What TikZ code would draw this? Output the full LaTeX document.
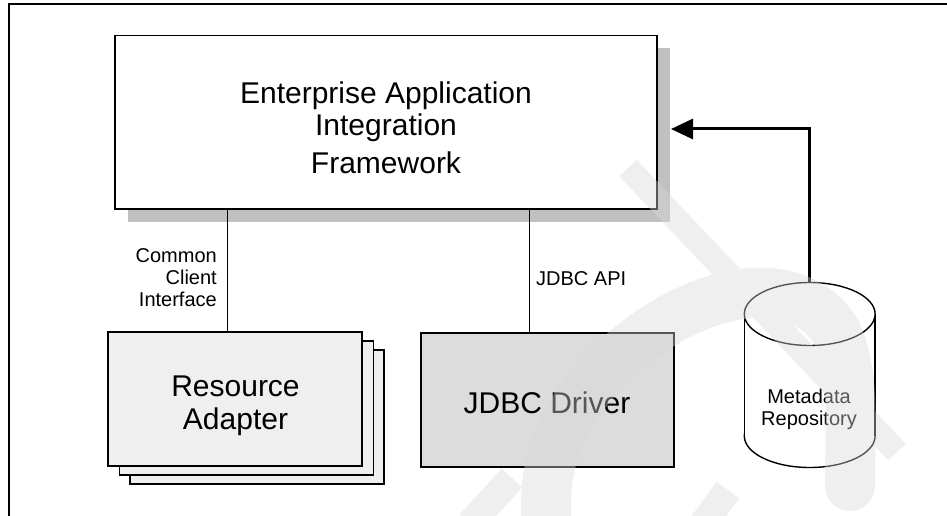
\documentclass[tikz,border=0pt]{standalone}
\usepackage{fontspec}
\setmainfont{Liberation Sans}
\usetikzlibrary{arrows.meta,calc}
\definecolor{shadowgray}{HTML}{C0C0C0}
\definecolor{adapterfill}{HTML}{EFEFEF}
\definecolor{driverfill}{HTML}{DCDCDC}
\definecolor{markgray}{HTML}{D9D9D9}
\begin{document}
\begin{tikzpicture}[x=1pt,y=-1pt,
  box/.style={draw=black, line width=1.2pt, inner sep=0pt},
  stackbox/.style={box, fill=adapterfill, minimum width=254pt, minimum height=134pt},
  bigtext/.style={inner sep=0pt, align=center, font=\fontsize{30}{33.3}\selectfont},
  lbl/.style={inner sep=0pt, font=\fontsize{20}{22.2}\selectfont},
  conn/.style={draw=black, line width=1.1pt},
  cyl/.style={draw=black, line width=1.4pt},
  flow/.style={draw=black, line width=3pt, -{Triangle[length=22pt,width=20pt]}}]
\useasboundingbox (0,0) rectangle (947,516);
\fill[white] (0,0) rectangle (947,516);

% page frame
\draw[line width=2pt] (9,516) -- (9,4.3) -- (947,4.3);

% integration framework with drop shadow
\fill[shadowgray] (127.5,48) rectangle (670,222);
\node[box, fill=white, minimum width=542pt, minimum height=173.5pt] (eai) at (386,122.2) {};
\node[bigtext, anchor=north, font=\fontsize{30}{31.8}\selectfont] (eaitext) at (386,82)
  {Enterprise Application\\Integration\\[6.4pt]Framework};

% stacked resource adapters
\node[stackbox] (ra3) at (257,417) {};
\node[stackbox] (ra2) at (246.5,408) {};
\node[stackbox] (ra) at (235,399) {};
\node[bigtext, anchor=north] (ratext) at (235.5,375.2) {Resource\\Adapter};

% JDBC driver
\node[box, fill=driverfill, minimum width=253pt, minimum height=134pt] (jd) at (547.5,400) {};
\node[bigtext, anchor=base] (jdtext) at (547,413.3) {JDBC Driver};

% interfaces between the framework and the connectors
\draw[conn] ([xshift=-7.5pt]ra.north) -- ([xshift=-7.5pt]ra.north |- eai.south);
\draw[conn] ([xshift=-18pt]jd.north) -- ([xshift=-18pt]jd.north |- eai.south);
\node[lbl, align=right, anchor=north east] (cci) at (217,248.4) {Common\\Client\\Interface};
\node[lbl, anchor=base west] (api) at (536,285) {JDBC API};

% metadata repository cylinder
\draw[cyl, fill=white] (809.7,436) ellipse[x radius=65.4, y radius=31.5];
\fill[white] (744.3,314) rectangle (875.1,436);
\draw[cyl] (744.3,314) -- (744.3,436);
\draw[cyl] (875.1,314) -- (875.1,436);
\draw[cyl, fill=white] (809.7,314) ellipse[x radius=65.4, y radius=31.5];
\node[lbl, align=center, anchor=north] (md) at (809,389) {Metadata\\Repository};

% metadata feeds the framework
\coordinate (mdtop) at (809.7,282.5);
\coordinate (eaiin) at (671,129);
\draw[flow] (mdtop) |- (eaiin);

% faint watermark over the page
\begin{scope}[transparency group, opacity=0.4]
  \draw[markgray, line width=24pt] (628,168) -- (897,452);
  \draw[markgray, line width=50pt, line cap=round]
    (548,540) .. controls (540,470) and (555,420) .. (610,365)
    .. controls (680,295) and (790,262) .. (835,330)
    .. controls (855,370) and (850,420) .. (850,486);
  \draw[markgray, line width=28pt] (470,524) -- (512,478);
  \draw[markgray, line width=28pt] (700,528) -- (728,490);
\end{scope}
\end{tikzpicture}
\end{document}
